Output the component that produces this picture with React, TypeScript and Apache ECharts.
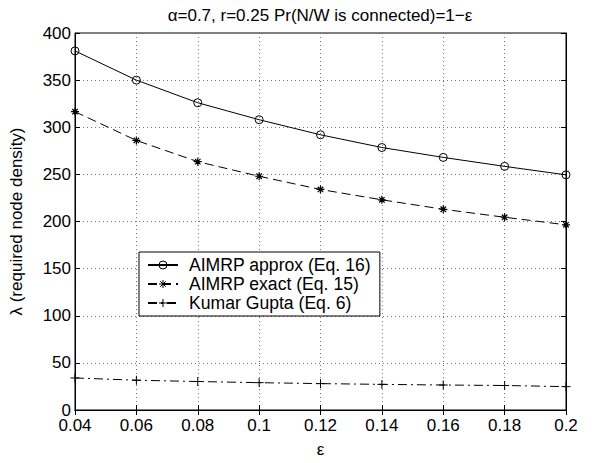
import React, { useEffect, useRef } from "react";
import * as echarts from "echarts";

const epsValues = [0.04, 0.06, 0.08, 0.1, 0.12, 0.14, 0.16, 0.18, 0.2];
const approxValues = [381, 350, 326, 308, 292, 278.5, 268, 258.5, 249.5];
const exactValues = [316.5, 286, 263.5, 248, 234, 223, 213, 204.5, 196.5];
const kumarValues = [34, 31.6, 30.2, 29, 28, 27.2, 26.5, 26, 24.8];
const seriesNames = ["AIMRP approx (Eq. 16)", "AIMRP exact (Eq. 15)", "Kumar Gupta (Eq. 6)"];
const titleText = "α=0.7, r=0.25 Pr(N/W is connected)=1−ε";
const xName = "ε";
const yName = "λ (required node density)";

const FONT = "'Liberation Sans', Arial, Helvetica, sans-serif";
const CIRCLE = "path://M10 5 A5 5 0 1 1 0 5 A5 5 0 1 1 10 5 Z";
const STAR = "path://M5 0 L5 10 M0 5 L10 5 M1.6 1.6 L8.4 8.4 M1.6 8.4 L8.4 1.6";
const PLUS = "path://M5 0 L5 10 M0 5 L10 5";

export default function App() {
  const ref = useRef<HTMLDivElement>(null);
  useEffect(() => {
    document.body.style.margin = "0";
    const chart = echarts.init(ref.current!, null, { renderer: "svg" });
    const pair = (ys: number[]) => epsValues.map((x, i) => [x, ys[i]]);
    const fmt = (v: number) => String(parseFloat(v.toFixed(2)));
    const gridLine = { show: true, lineStyle: { color: "#777", type: [1, 3], width: 1 } };
    chart.setOption({
      animation: false,
      backgroundColor: "#fff",
      textStyle: { fontFamily: FONT },
      grid: { left: 71, right: 28, top: 33, bottom: 41, show: true, borderColor: "#000", borderWidth: 1 },
      graphic: [
        {
          type: "text",
          x: 320,
          y: 15,
          style: { text: titleText, fontSize: 17, fontFamily: FONT, fill: "#000", textAlign: "center", textVerticalAlign: "middle" },
        },
      ],
      xAxis: [
        {
          type: "value",
          min: 0.04,
          max: 0.2,
          interval: 0.02,
          name: xName,
          nameLocation: "middle",
          nameGap: 31,
          nameTextStyle: { fontSize: 17, color: "#000", fontFamily: FONT },
          axisLine: { show: true, lineStyle: { color: "#000", width: 1 } },
          axisTick: { show: true, inside: true, length: 5, lineStyle: { color: "#000" } },
          axisLabel: { color: "#000", fontSize: 17, margin: 7, formatter: fmt, fontFamily: FONT },
          splitLine: gridLine,
        },
        {
          type: "value",
          position: "top",
          min: 0.04,
          max: 0.2,
          interval: 0.02,
          axisLine: { show: true, lineStyle: { color: "#000", width: 1 } },
          axisTick: { show: true, inside: true, length: 5, lineStyle: { color: "#000" } },
          axisLabel: { show: false },
          splitLine: { show: false },
        },
      ],
      yAxis: [
        {
          type: "value",
          min: 0,
          max: 400,
          interval: 50,
          name: yName,
          nameLocation: "middle",
          nameGap: 50,
          nameRotate: 90,
          nameTextStyle: { fontSize: 17, color: "#000", fontFamily: FONT },
          axisLine: { show: true, lineStyle: { color: "#000", width: 1 } },
          axisTick: { show: true, inside: true, length: 5, lineStyle: { color: "#000" } },
          axisLabel: { color: "#000", fontSize: 17, margin: 4, fontFamily: FONT },
          splitLine: gridLine,
        },
        {
          type: "value",
          position: "right",
          min: 0,
          max: 400,
          interval: 50,
          axisLine: { show: true, lineStyle: { color: "#000", width: 1 } },
          axisTick: { show: true, inside: true, length: 5, lineStyle: { color: "#000" } },
          axisLabel: { show: false },
          splitLine: { show: false },
        },
      ],
      legend: {
        orient: "vertical",
        left: 139,
        top: 252,
        padding: [4, 9, 4, 8],
        itemWidth: 30,
        itemHeight: 10,
        itemGap: 1,
        backgroundColor: "#fff",
        borderColor: "#000",
        borderWidth: 1,
        borderRadius: 0,
        itemStyle: { borderWidth: 1 },
        textStyle: { fontSize: 17.6, color: "#000", fontFamily: FONT, padding: [0, 0, 0, 6], lineHeight: 18 },
        data: seriesNames,
      },
      series: [
        {
          name: seriesNames[0],
          type: "line",
          data: pair(approxValues),
          symbol: CIRCLE,
          symbolSize: 8,
          lineStyle: { color: "#000", width: 1, type: "solid" },
          itemStyle: { color: "none", borderColor: "#000", borderWidth: 1 },
        },
        {
          name: seriesNames[1],
          type: "line",
          data: pair(exactValues),
          symbol: STAR,
          symbolSize: 8,
          lineStyle: { color: "#000", width: 1, type: [9, 5] },
          itemStyle: { color: "#000", borderColor: "#000", borderWidth: 1.2 },
        },
        {
          name: seriesNames[2],
          type: "line",
          data: pair(kumarValues),
          symbol: PLUS,
          symbolSize: 9,
          lineStyle: { color: "#000", width: 1, type: [9, 4, 2, 4] },
          itemStyle: { color: "#000", borderColor: "#000", borderWidth: 1 },
        },
      ],
    });
    return () => chart.dispose();
  }, []);
  return <div ref={ref} style={{ width: 594, height: 463 }} />;
}
